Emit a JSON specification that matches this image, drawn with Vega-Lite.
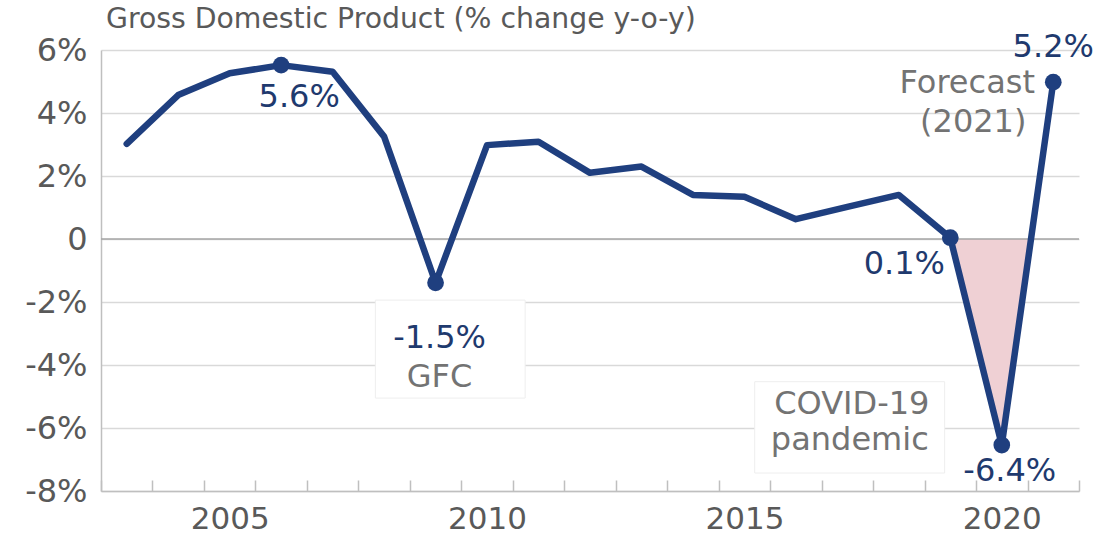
{
  "$schema": "https://vega.github.io/schema/vega-lite/v6.json",
  "width": 978,
  "height": 441,
  "autosize": "none",
  "padding": {"left": 101, "top": 50, "right": 25, "bottom": 48},
  "background": "white",
  "config": {"font": "DejaVu Sans", "view": {"stroke": null}},
  "title": {
    "text": "Gross Domestic Product (% change y-o-y)",
    "anchor": "start",
    "frame": "group",
    "fontSize": 28.3,
    "fontWeight": "normal",
    "color": "#595959",
    "baseline": "alphabetic",
    "offset": -25,
    "dx": 5
  },
  "datasets": {
    "gdp": [
      {"year": 2003, "gdp": 3.02},
      {"year": 2004, "gdp": 4.57},
      {"year": 2005, "gdp": 5.26},
      {"year": 2006, "gdp": 5.52, "label": "5.6%"},
      {"year": 2007, "gdp": 5.31},
      {"year": 2008, "gdp": 3.25},
      {"year": 2009, "gdp": -1.39, "label": "-1.5%"},
      {"year": 2010, "gdp": 2.98},
      {"year": 2011, "gdp": 3.09},
      {"year": 2012, "gdp": 2.1},
      {"year": 2013, "gdp": 2.3},
      {"year": 2014, "gdp": 1.4},
      {"year": 2015, "gdp": 1.34},
      {"year": 2016, "gdp": 0.63},
      {"year": 2017, "gdp": 1.02},
      {"year": 2018, "gdp": 1.4},
      {"year": 2019, "gdp": 0.04, "label": "0.1%"},
      {"year": 2020, "gdp": -6.54, "label": "-6.4%"},
      {"year": 2021, "gdp": 4.98, "label": "5.2%"}
    ],
    "covid": [
      {"year": 2019, "gdp": 0.04},
      {"year": 2020, "gdp": -6.54},
      {"year": 2020.57, "gdp": 0}
    ],
    "boxes": [
      {"name": "GFC", "x0": 2007.83, "x1": 2010.74, "y0": -1.94, "y1": -5.05},
      {"name": "COVID", "x0": 2015.2, "x1": 2018.89, "y0": -4.53, "y1": -7.43}
    ]
  },
  "layer": [
    {
      "data": {"name": "covid"},
      "mark": {"type": "area", "color": "#efd0d4", "opacity": 1},
      "encoding": {
        "x": {
          "field": "year", "type": "quantitative",
          "scale": {"domain": [2002.5, 2021.5], "nice": false, "zero": false},
          "axis": {
            "title": null,
            "values": [2002.5, 2003.5, 2004.5, 2005.5, 2006.5, 2007.5, 2008.5, 2009.5, 2010.5, 2011.5, 2012.5, 2013.5, 2014.5, 2015.5, 2016.5, 2017.5, 2018.5, 2019.5, 2020.5, 2021.5],
            "labelExpr": "indexof([2004.5, 2009.5, 2014.5, 2019.5], datum.value) >= 0 ? '' + (datum.value + 0.5) : ''",
            "labelOffset": 25.75,
            "labelFontSize": 31,
            "labelColor": "#595959",
            "labelPadding": 24,
            "labelFlush": false,
            "labelOverlap": false,
            "labelBound": false,
            "grid": false,
            "domainColor": "#bfbfbf",
            "domainWidth": 1.5,
            "tickColor": "#bfbfbf",
            "tickWidth": 1.5,
            "tickSize": -11
          }
        },
        "y": {
          "field": "gdp", "type": "quantitative",
          "scale": {"domain": [-8, 6], "nice": false, "zero": false},
          "axis": {
            "title": null,
            "values": [-8, -6, -4, -2, 0, 2, 4, 6],
            "labelExpr": "datum.value == 0 ? '0' : datum.value + '%'",
            "labelFontSize": 32,
            "labelColor": "#595959",
            "labelPadding": 14,
            "ticks": false,
            "grid": true,
            "gridColor": "#d9d9d9",
            "gridWidth": 1.5,
            "domainColor": "#bfbfbf",
            "domainWidth": 1.5
          }
        },
        "y2": {"datum": 0}
      }
    },
    {
      "data": {"name": "boxes"},
      "mark": {"type": "rect", "fill": "white", "stroke": "#eeeeee", "strokeWidth": 1},
      "encoding": {
        "x": {"field": "x0", "type": "quantitative"},
        "x2": {"field": "x1"},
        "y": {"field": "y0", "type": "quantitative"},
        "y2": {"field": "y1"}
      }
    },
    {
      "data": {"values": [{"v": 0}]},
      "mark": {"type": "rule", "color": "#a6a6a6", "strokeWidth": 1.5},
      "encoding": {"y": {"field": "v", "type": "quantitative"}}
    },
    {
      "data": {"name": "gdp"},
      "layer": [
        {
          "mark": {"type": "line", "color": "#1f3f7f", "strokeWidth": 6.5, "strokeJoin": "round", "strokeCap": "round"},
          "encoding": {
            "x": {"field": "year", "type": "quantitative"},
            "y": {"field": "gdp", "type": "quantitative"}
          }
        },
        {
          "transform": [{"filter": "isValid(datum.label)"}],
          "mark": {"type": "point", "filled": true, "size": 280, "color": "#1f3f7f", "opacity": 1},
          "encoding": {
            "x": {"field": "year", "type": "quantitative"},
            "y": {"field": "gdp", "type": "quantitative"}
          }
        },
        {
          "transform": [{"filter": "datum.year == 2006"}],
          "mark": {"type": "text", "dx": 18, "dy": 32, "fontSize": 32, "color": "#1f3a6e"},
          "encoding": {"x": {"field": "year", "type": "quantitative"}, "y": {"field": "gdp", "type": "quantitative"}, "text": {"field": "label"}}
        },
        {
          "transform": [{"filter": "datum.year == 2009"}],
          "mark": {"type": "text", "dx": 4, "dy": 55, "fontSize": 32, "color": "#1f3a6e"},
          "encoding": {"x": {"field": "year", "type": "quantitative"}, "y": {"field": "gdp", "type": "quantitative"}, "text": {"field": "label"}}
        },
        {
          "transform": [{"filter": "datum.year == 2009"}],
          "mark": {"type": "text", "dx": 4, "dy": 94, "fontSize": 32, "color": "#737373"},
          "encoding": {"x": {"field": "year", "type": "quantitative"}, "y": {"field": "gdp", "type": "quantitative"}, "text": {"value": "GFC"}}
        },
        {
          "transform": [{"filter": "datum.year == 2019"}],
          "mark": {"type": "text", "dx": -46, "dy": 26, "fontSize": 32, "color": "#1f3a6e"},
          "encoding": {"x": {"field": "year", "type": "quantitative"}, "y": {"field": "gdp", "type": "quantitative"}, "text": {"field": "label"}}
        },
        {
          "transform": [{"filter": "datum.year == 2020"}],
          "mark": {"type": "text", "dx": 8, "dy": 26, "fontSize": 32, "color": "#1f3a6e"},
          "encoding": {"x": {"field": "year", "type": "quantitative"}, "y": {"field": "gdp", "type": "quantitative"}, "text": {"field": "label"}}
        },
        {
          "transform": [{"filter": "datum.year == 2020"}],
          "mark": {"type": "text", "dx": -150, "dy": -41, "fontSize": 32, "color": "#737373"},
          "encoding": {"x": {"field": "year", "type": "quantitative"}, "y": {"field": "gdp", "type": "quantitative"}, "text": {"value": "COVID-19"}}
        },
        {
          "transform": [{"filter": "datum.year == 2020"}],
          "mark": {"type": "text", "dx": -152, "dy": -5, "fontSize": 32, "color": "#737373"},
          "encoding": {"x": {"field": "year", "type": "quantitative"}, "y": {"field": "gdp", "type": "quantitative"}, "text": {"value": "pandemic"}}
        },
        {
          "transform": [{"filter": "datum.year == 2021"}],
          "mark": {"type": "text", "dx": 0, "dy": -35, "fontSize": 32, "color": "#1f3a6e"},
          "encoding": {"x": {"field": "year", "type": "quantitative"}, "y": {"field": "gdp", "type": "quantitative"}, "text": {"field": "label"}}
        },
        {
          "transform": [{"filter": "datum.year == 2021"}],
          "mark": {"type": "text", "dx": -86, "dy": 1, "fontSize": 32, "color": "#737373"},
          "encoding": {"x": {"field": "year", "type": "quantitative"}, "y": {"field": "gdp", "type": "quantitative"}, "text": {"value": "Forecast"}}
        },
        {
          "transform": [{"filter": "datum.year == 2021"}],
          "mark": {"type": "text", "dx": -80, "dy": 40, "fontSize": 32, "color": "#737373"},
          "encoding": {"x": {"field": "year", "type": "quantitative"}, "y": {"field": "gdp", "type": "quantitative"}, "text": {"value": "(2021)"}}
        }
      ]
    }
  ]
}
